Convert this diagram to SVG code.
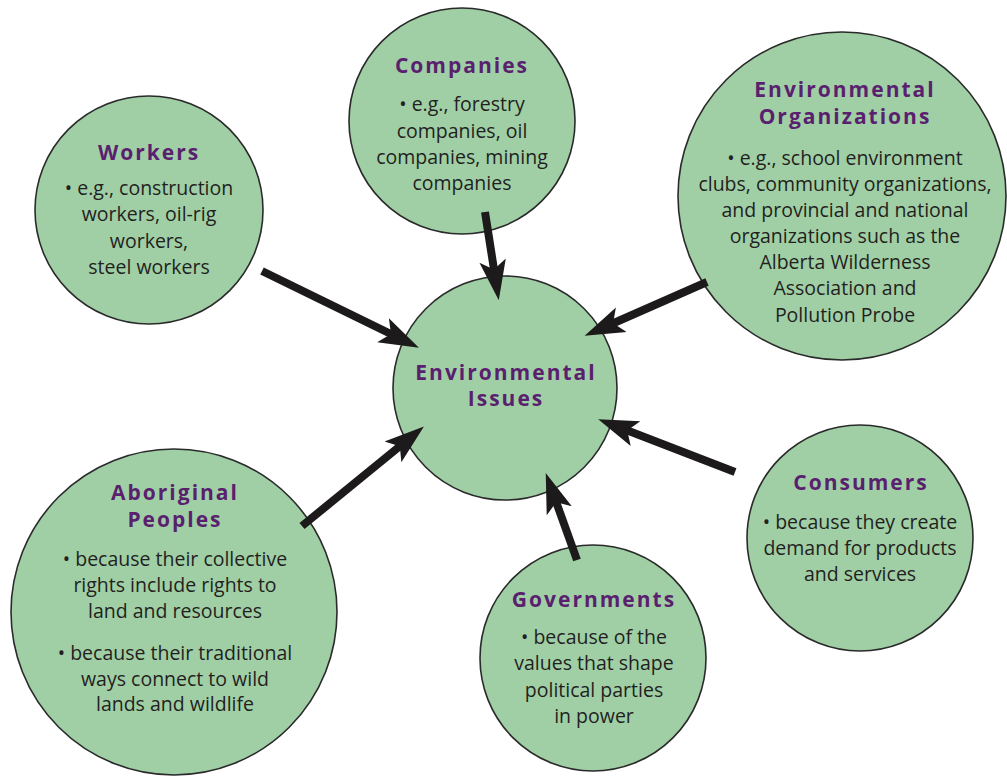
<svg xmlns="http://www.w3.org/2000/svg" width="1007" height="776" viewBox="0 0 1007 776">
<style>
.c{fill:#a0cfa6;stroke:#2a2a2a;stroke-width:1.6}
.t{font-family:"Open Sans","Liberation Sans",sans-serif;font-weight:bold;font-size:21px;fill:#5a1f6e;text-anchor:middle;letter-spacing:2px}
.b{font-family:"Open Sans","Liberation Sans",sans-serif;font-size:19.5px;fill:#231f20;text-anchor:middle}
.a{stroke:#1c1a1a;stroke-width:8;fill:none;marker-end:url(#ah)}
</style>
<defs>
<marker id="ah" markerUnits="userSpaceOnUse" markerWidth="40" markerHeight="30" viewBox="0 0 36 26" refX="14" refY="13" orient="auto">
<path d="M0,1 L36,13 L0,25 L8,13 Z" fill="#1c1a1a"/>
</marker>
</defs>
<rect width="1007" height="776" fill="#ffffff"/>
<g id="node-companies">
<circle class="c" cx="462" cy="121" r="113"/>
<text class="t" x="462" y="73">Companies</text>
<text class="b" x="462" y="111">• e.g., forestry</text>
<text class="b" x="462" y="138">companies, oil</text>
<text class="b" x="462" y="164">companies, mining</text>
<text class="b" x="462" y="190">companies</text>
</g>
<g id="node-workers">
<circle class="c" cx="149" cy="210" r="114"/>
<text class="t" x="149" y="160">Workers</text>
<text class="b" x="149" y="195">• e.g., construction</text>
<text class="b" x="149" y="221">workers, oil-rig</text>
<text class="b" x="149" y="248">workers,</text>
<text class="b" x="149" y="274">steel workers</text>
</g>
<g id="node-envorg">
<circle class="c" cx="842" cy="196" r="164"/>
<text class="t" x="845" y="97">Environmental</text>
<text class="t" x="845" y="124">Organizations</text>
<text class="b" x="845" y="165">• e.g., school environment</text>
<text class="b" x="845" y="191">clubs, community organizations,</text>
<text class="b" x="845" y="217">and provincial and national</text>
<text class="b" x="845" y="243">organizations such as the</text>
<text class="b" x="845" y="269">Alberta Wilderness</text>
<text class="b" x="845" y="295">Association and</text>
<text class="b" x="845" y="322">Pollution Probe</text>
</g>
<g id="node-issues">
<circle class="c" cx="505" cy="388" r="112"/>
<text class="t" x="506" y="380">Environmental</text>
<text class="t" x="506" y="406">Issues</text>
</g>
<g id="node-aboriginal">
<circle class="c" cx="174" cy="612" r="163"/>
<text class="t" x="175" y="500">Aboriginal</text>
<text class="t" x="175" y="527">Peoples</text>
<text class="b" x="175" y="566">• because their collective</text>
<text class="b" x="175" y="592">rights include rights to</text>
<text class="b" x="175" y="618">land and resources</text>
<text class="b" x="175" y="660">• because their traditional</text>
<text class="b" x="175" y="686">ways connect to wild</text>
<text class="b" x="175" y="711">lands and wildlife</text>
</g>
<g id="node-governments">
<circle class="c" cx="593" cy="658" r="113"/>
<text class="t" x="594" y="607">Governments</text>
<text class="b" x="594" y="644">• because of the</text>
<text class="b" x="594" y="670">values that shape</text>
<text class="b" x="594" y="697">political parties</text>
<text class="b" x="594" y="723">in power</text>
</g>
<g id="node-consumers">
<circle class="c" cx="860" cy="538" r="113"/>
<text class="t" x="861" y="490">Consumers</text>
<text class="b" x="860" y="529">• because they create</text>
<text class="b" x="860" y="555">demand for products</text>
<text class="b" x="860" y="581">and services</text>
</g>
<g id="connectors">
<line class="a" x1="262" y1="271" x2="397" y2="337"/>
<line class="a" x1="485" y1="212" x2="495" y2="276"/>
<line class="a" x1="707" y1="282" x2="607" y2="326"/>
<line class="a" x1="735" y1="472" x2="621" y2="428"/>
<line class="a" x1="577" y1="560" x2="554" y2="496"/>
<line class="a" x1="302" y1="526" x2="405" y2="442"/>
</g>
</svg>
